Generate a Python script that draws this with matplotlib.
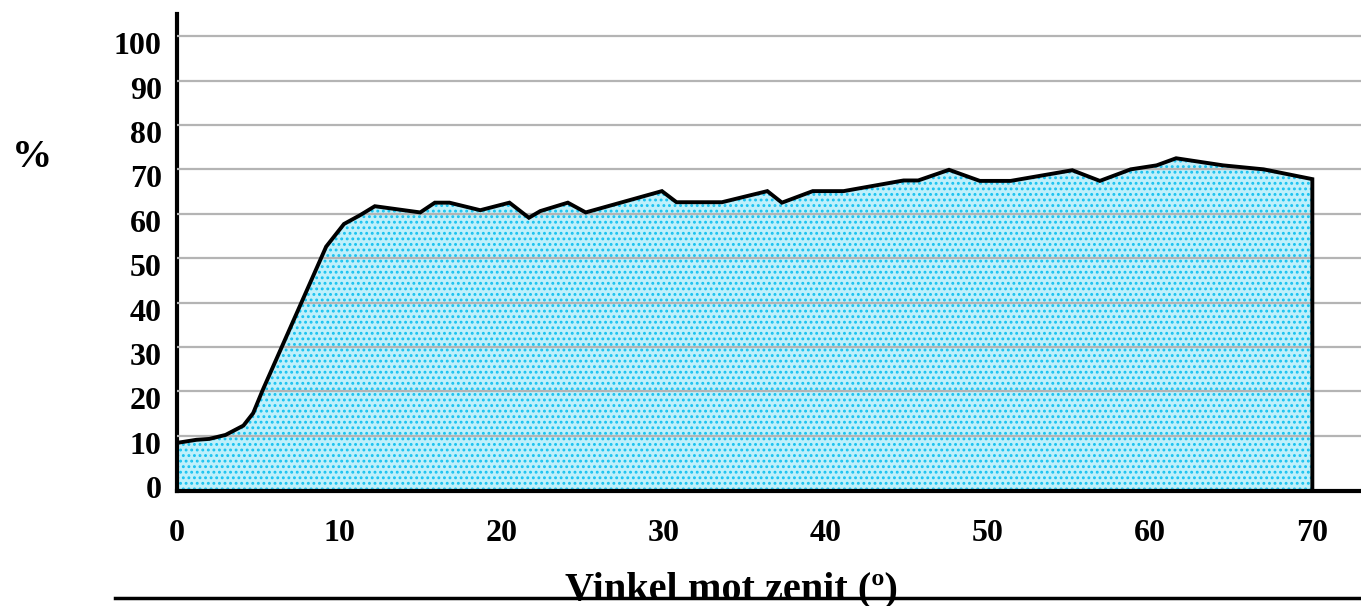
import numpy as np
import matplotlib.pyplot as plt
from matplotlib.lines import Line2D
from matplotlib.transforms import ScaledTranslation

# angle from zenith (deg) and percentage
vinkel = [0, 1.2, 2.0, 3.0, 4.1, 4.7, 5.3, 9.2, 10.3, 11.3, 12.2, 14.4, 15.0,
          15.9, 16.8, 18.7, 20.5, 21.7, 22.4, 24.1, 25.2, 29.9, 30.8, 33.6,
          36.4, 37.3, 39.2, 41.1, 44.8, 45.7, 47.6, 49.5, 51.4, 55.2, 56.9,
          58.8, 60.4, 61.6, 64.5, 67.0, 70.0]
procent = [8.4, 9.1, 9.3, 10.2, 12.3, 15.1, 20.4, 52.6, 57.7, 59.7, 61.7, 60.6,
           60.3, 62.5, 62.5, 60.8, 62.5, 59.1, 60.6, 62.5, 60.3, 65.1, 62.6,
           62.6, 65.1, 62.5, 65.1, 65.1, 67.5, 67.5, 69.9, 67.4, 67.4, 69.8,
           67.4, 70.0, 70.9, 72.5, 70.9, 70.0, 67.8]
yticks = [0, 10, 20, 30, 40, 50, 60, 70, 80, 90, 100]
xticks = [0, 10, 20, 30, 40, 50, 60, 70]

plt.rcParams['font.family'] = ['Liberation Serif', 'DejaVu Serif']
plt.rcParams['font.weight'] = 'bold'
plt.rcParams['hatch.linewidth'] = 1.3

fig = plt.figure(figsize=(13.61, 6.06), dpi=100)
ax = fig.add_axes([0.130, 0.19, 0.870, 0.787])

ymin = -2.4
x = np.array(vinkel)
y = np.array(procent)
# close the polygon down to the axis line at the last point
xs = np.concatenate([x, [x[-1]]])
ys = np.concatenate([y, [ymin]])
ax.fill_between(xs, ymin, ys, facecolor='#bff0fb', edgecolor='#18c2f0',
                hatch='...', linewidth=0, zorder=1)
ax.plot(xs, ys, color='black', lw=2.8, zorder=3, solid_joinstyle='miter')

ax.set_xlim(0, 73)
ax.set_ylim(ymin, 105)
ax.set_yticks(yticks)
ax.set_xticks(xticks)
ax.yaxis.grid(True, color='#b4b4b4', lw=1.6, zorder=2)
ax.set_axisbelow(False)
gl = ax.get_ygridlines()
gl[0].set_visible(False)
for line in gl:
    line.set_zorder(2)
for sp in ['top', 'right']:
    ax.spines[sp].set_visible(False)
ax.spines['left'].set_linewidth(3)
ax.spines['bottom'].set_linewidth(3)
ax.tick_params(length=0, labelsize=23)
ax.tick_params(axis='y', pad=11)
ax.tick_params(axis='x', pad=20)
for lab in ax.get_yticklabels():
    lab.set_transform(lab.get_transform() + ScaledTranslation(0, -0.07, fig.dpi_scale_trans))

fig.text(32 / 1361, 1 - 158 / 606, '%', fontsize=29, fontweight='bold',
         ha='center', va='center')
fig.text(731 / 1361, 1 - 599 / 606, 'Vinkel mot zenit (º)', fontsize=29,
         fontweight='bold', ha='center', va='baseline')
fig.add_artist(Line2D([115 / 1361, 1.0], [1 - 598 / 606] * 2, color='black', lw=2.5))

fig.savefig('out.png', dpi=100)
